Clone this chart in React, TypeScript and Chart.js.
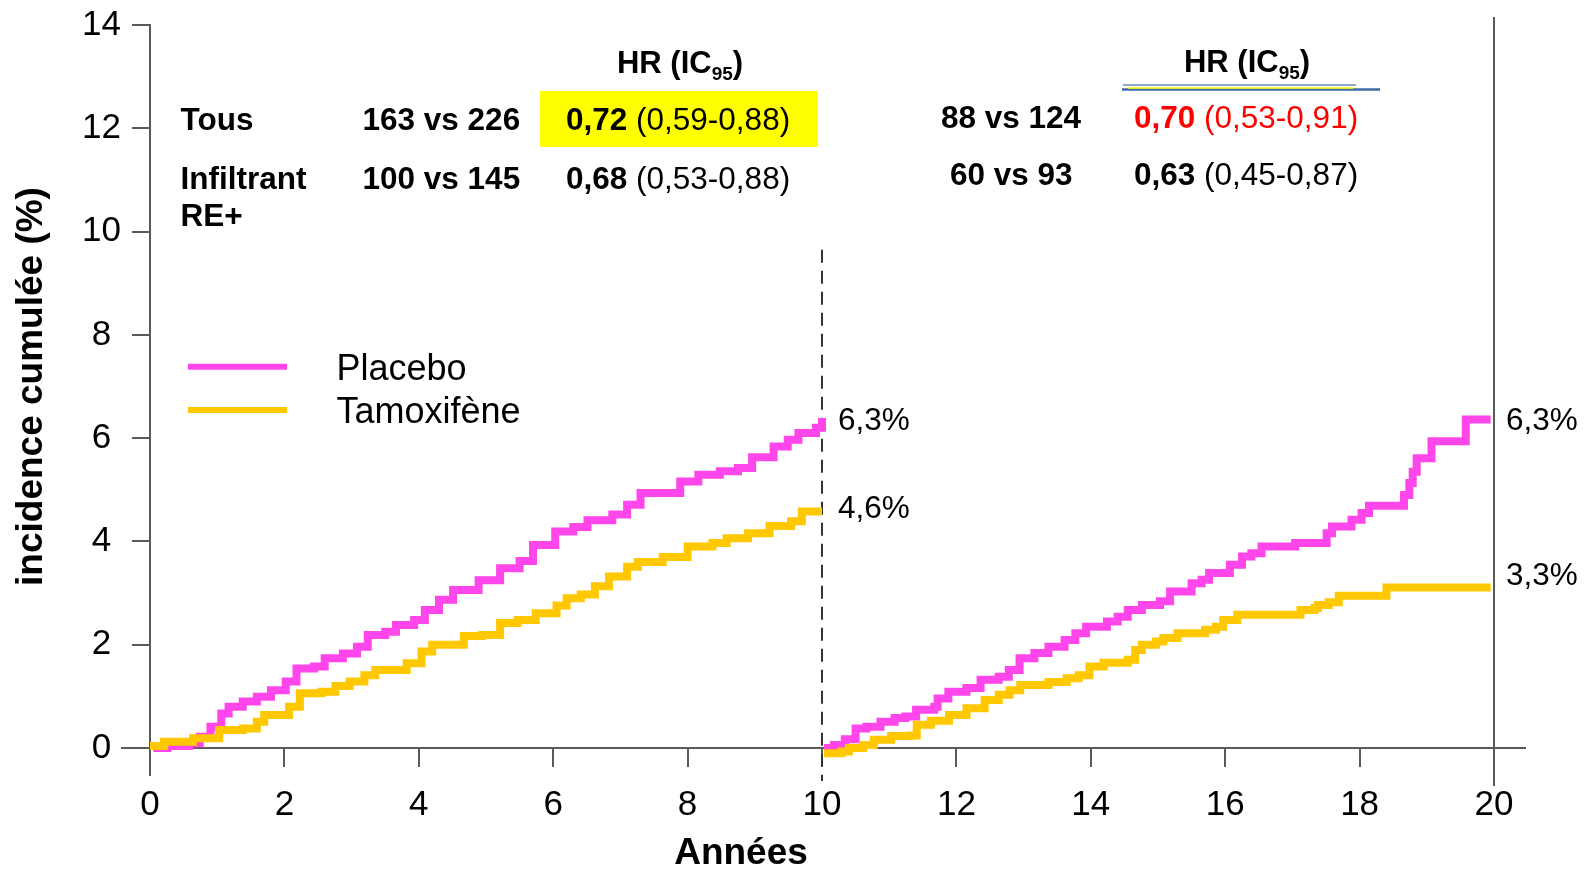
import React, { useEffect, useRef } from 'react';
import { Chart, registerables } from 'chart.js';

Chart.register(...registerables);

// ---------- DATA ----------
const xTickValues = [0, 2, 4, 6, 8, 10, 12, 14, 16, 18, 20];
const yTickValues = [0, 2, 4, 6, 8, 10, 12, 14];

const seriesNames = ['Placebo', 'Tamoxifène'];

// Period 1 (0–10 years)
const placeboYears1 = [0.05, 0.26, 0.58, 0.74, 0.9, 1.06, 1.17, 1.38, 1.59, 1.8, 2.02, 2.18, 2.44, 2.6, 2.87, 3.08, 3.24, 3.5, 3.66, 3.93, 4.09, 4.3, 4.51, 4.89, 5.21, 5.5, 5.7, 6.03, 6.3, 6.51, 6.88, 7.1, 7.3, 7.63, 7.89, 8.16, 8.48, 8.75, 8.96, 9.17, 9.28, 9.49, 9.65, 9.91, 10.0];
const placeboInc1 = [0, 0.04, 0.09, 0.22, 0.41, 0.67, 0.8, 0.9, 0.99, 1.12, 1.29, 1.54, 1.58, 1.74, 1.83, 1.96, 2.19, 2.25, 2.38, 2.48, 2.67, 2.87, 3.06, 3.25, 3.48, 3.62, 3.93, 4.19, 4.28, 4.41, 4.52, 4.71, 4.94, 4.94, 5.16, 5.29, 5.36, 5.42, 5.63, 5.63, 5.84, 5.97, 6.1, 6.2, 6.39];

const tamoxYears1 = [0.0, 0.21, 0.64, 1.03, 1.38, 1.59, 1.7, 2.07, 2.23, 2.55, 2.76, 2.97, 3.19, 3.35, 3.82, 4.04, 4.2, 4.67, 4.94, 5.21, 5.47, 5.74, 6.05, 6.2, 6.41, 6.62, 6.83, 7.1, 7.26, 7.63, 8.0, 8.37, 8.58, 8.9, 9.22, 9.54, 9.7, 10.0];
const tamoxInc1 = [0.04, 0.12, 0.19, 0.35, 0.38, 0.51, 0.64, 0.8, 1.06, 1.09, 1.2, 1.29, 1.41, 1.51, 1.64, 1.87, 2.0, 2.17, 2.19, 2.42, 2.48, 2.61, 2.76, 2.9, 2.97, 3.13, 3.32, 3.51, 3.6, 3.7, 3.9, 3.97, 4.06, 4.16, 4.3, 4.39, 4.58, 4.58];

// Period 2 (10–20 years)
const placeboYears2 = [10.03, 10.18, 10.34, 10.5, 10.66, 10.87, 11.08, 11.24, 11.4, 11.67, 11.72, 11.88, 12.15, 12.36, 12.63, 12.78, 12.94, 13.16, 13.37, 13.61, 13.77, 13.93, 14.24, 14.4, 14.55, 14.76, 15.03, 15.18, 15.5, 15.65, 15.76, 16.07, 16.25, 16.39, 16.54, 17.04, 17.51, 17.59, 17.88, 18.03, 18.14, 18.66, 18.74, 18.79, 18.85, 19.07, 19.58, 19.95];
const placeboInc2 = [0.0, 0.06, 0.17, 0.38, 0.41, 0.51, 0.58, 0.61, 0.74, 0.8, 0.96, 1.09, 1.16, 1.32, 1.38, 1.51, 1.74, 1.84, 1.96, 2.09, 2.22, 2.35, 2.45, 2.54, 2.67, 2.77, 2.84, 3.03, 3.19, 3.26, 3.39, 3.55, 3.71, 3.77, 3.9, 3.97, 4.16, 4.29, 4.42, 4.55, 4.69, 4.9, 5.13, 5.35, 5.61, 5.94, 6.36, 6.36];

const tamoxYears2 = [10.03, 10.29, 10.4, 10.61, 10.77, 11.03, 11.3, 11.41, 11.62, 11.89, 12.15, 12.42, 12.63, 12.79, 12.95, 13.37, 13.64, 13.82, 13.98, 14.19, 14.55, 14.66, 14.76, 14.97, 15.08, 15.29, 15.7, 15.86, 15.97, 16.18, 17.12, 17.33, 17.38, 17.54, 17.69, 18.4, 19.95];
const tamoxInc2 = [-0.1, -0.07, 0.0, 0.06, 0.16, 0.23, 0.24, 0.45, 0.53, 0.64, 0.77, 0.93, 1.03, 1.12, 1.22, 1.28, 1.35, 1.41, 1.58, 1.65, 1.71, 1.9, 2.0, 2.06, 2.13, 2.22, 2.29, 2.35, 2.48, 2.58, 2.67, 2.71, 2.77, 2.82, 2.95, 3.11, 3.11];

// End-of-period annotations
const endLabelYears = [10, 10, 20, 20];
const endLabelValues = [6.3, 4.6, 6.3, 3.3];
const endLabelTexts = ['6,3%', '4,6%', '6,3%', '3,3%'];

// Table
const rowLabels = [['Tous'], ['Infiltrant', 'RE+']];
const eventsPeriod1 = ['163 vs 226', '100 vs 145'];
const hrPeriod1 = ['0,72', '0,68'];
const ciPeriod1 = ['(0,59-0,88)', '(0,53-0,88)'];
const eventsPeriod2 = ['88 vs 124', '60 vs 93'];
const hrPeriod2 = ['0,70', '0,63'];
const ciPeriod2 = ['(0,53-0,91)', '(0,45-0,87)'];

const yTitle = 'incidence cumulée (%)';
const xTitle = 'Années';

// ---------- STYLE ----------
const FONT = '"Liberation Sans", Arial, Helvetica, sans-serif';
const PINK = '#FF46EA';
const GOLD = '#FFC800';
const AXIS = '#5a5a5a';

const toPoints = (xs: number[], ys: number[]) => xs.map((x, i) => ({ x, y: ys[i] }));

type Run = { text: string; size: number; bold?: boolean; color?: string; dy?: number };

function runsWidth(ctx: CanvasRenderingContext2D, runs: Run[]) {
  let w = 0;
  for (const r of runs) {
    ctx.font = `${r.bold ? 'bold ' : ''}${r.size}px ${FONT}`;
    w += ctx.measureText(r.text).width;
  }
  return w;
}

function drawRuns(ctx: CanvasRenderingContext2D, x: number, y: number, runs: Run[], align: 'left' | 'center' = 'left') {
  let cx = x;
  if (align === 'center') cx = x - runsWidth(ctx, runs) / 2;
  ctx.textAlign = 'left';
  ctx.textBaseline = 'alphabetic';
  for (const r of runs) {
    ctx.font = `${r.bold ? 'bold ' : ''}${r.size}px ${FONT}`;
    ctx.fillStyle = r.color || '#000';
    ctx.fillText(r.text, cx, y + (r.dy || 0));
    cx += ctx.measureText(r.text).width;
  }
}

const overlayPlugin = {
  id: 'overlay',
  beforeDatasetsDraw(chart: any) {
    const { ctx, scales } = chart;
    const xs = scales.x;
    const ys = scales.y;
    const x0 = xs.getPixelForValue(0);
    const x10 = xs.getPixelForValue(10);
    const x20 = xs.getPixelForValue(20);
    const y0 = ys.getPixelForValue(0);
    ctx.save();
    ctx.strokeStyle = AXIS;
    ctx.lineWidth = 2;
    const seg = (a: number, b: number, c: number, d: number) => {
      ctx.beginPath();
      ctx.moveTo(a, b);
      ctx.lineTo(c, d);
      ctx.stroke();
    };
    // x axis extensions
    seg(x0 - 29, y0, x0, y0);
    seg(x20, y0, x20 + 32, y0);
    // y axis extension under the x axis
    seg(x0, y0, x0, y0 + 28);
    // right frame line at 20
    seg(x20, ys.getPixelForValue(14) - 8, x20, y0 + 38);
    // dashed separator at 10
    ctx.strokeStyle = '#333';
    ctx.setLineDash([13, 8]);
    seg(x10, ys.getPixelForValue(9.65), x10, y0 + 33);
    ctx.restore();
  },
  afterDraw(chart: any) {
    const { ctx, scales } = chart;
    const xs = scales.x;
    const ys = scales.y;
    ctx.save();

    // End-of-curve labels
    ctx.font = `31.5px ${FONT}`;
    ctx.fillStyle = '#000';
    ctx.textAlign = 'left';
    ctx.textBaseline = 'middle';
    endLabelTexts.forEach((t, i) => {
      const off = endLabelYears[i] === 10 ? 16 : 12;
      ctx.fillText(t, xs.getPixelForValue(endLabelYears[i]) + off, ys.getPixelForValue(endLabelValues[i]) - 1);
    });

    // Legend
    const legendY = [366.7, 410];
    const legendBase = [380, 422.5];
    const colors = [PINK, GOLD];
    seriesNames.forEach((n, i) => {
      ctx.strokeStyle = colors[i];
      ctx.lineWidth = 6;
      ctx.beginPath();
      ctx.moveTo(188, legendY[i]);
      ctx.lineTo(287, legendY[i]);
      ctx.stroke();
      drawRuns(ctx, 336.5, legendBase[i], [{ text: n, size: 36 }]);
    });

    // Yellow highlight
    ctx.fillStyle = '#FFFF00';
    ctx.fillRect(540, 91, 278, 56);

    // Underline decoration under the second HR header
    ctx.lineWidth = 2;
    ctx.strokeStyle = '#8FA9C9';
    ctx.beginPath(); ctx.moveTo(1123, 85); ctx.lineTo(1356, 85); ctx.stroke();
    ctx.strokeStyle = '#3E6CA6';
    ctx.lineWidth = 2.5;
    ctx.beginPath(); ctx.moveTo(1122, 89.5); ctx.lineTo(1380, 89.5); ctx.stroke();
    ctx.strokeStyle = '#FFFF00';
    ctx.lineWidth = 1.5;
    ctx.beginPath(); ctx.moveTo(1128, 88); ctx.lineTo(1353, 88); ctx.stroke();

    // HR headers
    const hrHeader = (cx: number, base: number) =>
      drawRuns(ctx, cx, base, [
        { text: 'HR (IC', size: 31, bold: true },
        { text: '95', size: 19, bold: true, dy: 7 },
        { text: ')', size: 31, bold: true },
      ], 'center');
    hrHeader(680, 73);
    hrHeader(1247, 72);

    const S = 31.5;
    const rowBase1 = [130, 189];
    const rowBase2 = [128, 185];
    rowLabels.forEach((lines, i) => {
      lines.forEach((l, j) => drawRuns(ctx, 180.5, rowBase1[i] + j * 37, [{ text: l, size: S, bold: true }]));
      drawRuns(ctx, 362.5, rowBase1[i], [{ text: eventsPeriod1[i], size: S, bold: true }]);
      drawRuns(ctx, 566, rowBase1[i], [
        { text: hrPeriod1[i], size: S, bold: true },
        { text: ' ' + ciPeriod1[i], size: S },
      ]);
      drawRuns(ctx, i === 0 ? 941 : 950, rowBase2[i], [{ text: eventsPeriod2[i], size: S, bold: true }]);
      const c = i === 0 ? '#FF0000' : '#000';
      drawRuns(ctx, 1134, rowBase2[i], [
        { text: hrPeriod2[i], size: S, bold: true, color: c },
        { text: ' ' + ciPeriod2[i], size: S, color: c },
      ]);
    });

    // x axis title
    ctx.font = `bold 37px ${FONT}`;
    ctx.fillStyle = '#000';
    ctx.textAlign = 'center';
    ctx.textBaseline = 'alphabetic';
    ctx.fillText(xTitle, 741, 864);

    ctx.restore();
  },
};

export default function App() {
  const canvasRef = useRef<HTMLCanvasElement | null>(null);

  useEffect(() => {
    document.body.style.margin = '0';
    document.body.style.overflow = 'hidden';
    const canvas = canvasRef.current;
    if (!canvas) return;

    const common = {
      pointRadius: 0,
      pointHoverRadius: 0,
      borderWidth: 8,
      stepped: 'before' as const,
      fill: false,
      clip: 10,
      borderJoinStyle: 'miter' as const,
    };

    const chart = new Chart(canvas, {
      type: 'line',
      data: {
        datasets: [
          { ...common, label: seriesNames[1], data: toPoints(tamoxYears1, tamoxInc1), borderColor: GOLD, order: 0 },
          { ...common, label: seriesNames[1], data: toPoints(tamoxYears2, tamoxInc2), borderColor: GOLD, order: 0 },
          { ...common, label: seriesNames[0], data: toPoints(placeboYears1, placeboInc1), borderColor: PINK, order: 1 },
          { ...common, label: seriesNames[0], data: toPoints(placeboYears2, placeboInc2), borderColor: PINK, order: 1 },
        ],
      },
      options: {
        responsive: false,
        animation: false,
        events: [],
        layout: { padding: { top: 25, right: 97, bottom: 0, left: 0 } },
        plugins: { legend: { display: false }, tooltip: { enabled: false } },
        scales: {
          x: {
            type: 'linear',
            min: 0,
            max: 20,
            afterBuildTicks: (s: any) => { s.ticks = xTickValues.map((v) => ({ value: v })); },
            afterFit: (s: any) => { s.height = 121; s.paddingLeft = 0; s.paddingRight = 0; },
            ticks: {
              color: '#000',
              font: { family: FONT, size: 35 },
              padding: 17,
              maxRotation: 0,
              autoSkip: false,
            },
            grid: { drawOnChartArea: false, drawTicks: true, tickLength: 19, color: AXIS, lineWidth: 2 },
            border: { display: true, color: AXIS, width: 2 },
          },
          y: {
            type: 'linear',
            min: 0,
            max: 14,
            afterBuildTicks: (s: any) => { s.ticks = yTickValues.map((v) => ({ value: v })); },
            afterFit: (s: any) => { s.width = 150; s.paddingTop = 0; s.paddingBottom = 0; },
            ticks: {
              color: '#000',
              font: { family: FONT, size: 35 },
              padding: 11,
              crossAlign: 'center',
              autoSkip: false,
            },
            grid: { drawOnChartArea: false, drawTicks: true, tickLength: 18, color: AXIS, lineWidth: 2 },
            border: { display: true, color: AXIS, width: 2 },
            title: {
              display: true,
              text: yTitle,
              color: '#000',
              font: { family: FONT, size: 37, weight: 'bold' },
              padding: { top: 10, bottom: 0 },
            },
          },
        },
      },
      plugins: [overlayPlugin],
    } as any);

    return () => chart.destroy();
  }, []);

  return (
    <div style={{ width: 1591, height: 869, position: 'relative', background: '#fff' }}>
      <canvas ref={canvasRef} width={1591} height={869} />
    </div>
  );
}
